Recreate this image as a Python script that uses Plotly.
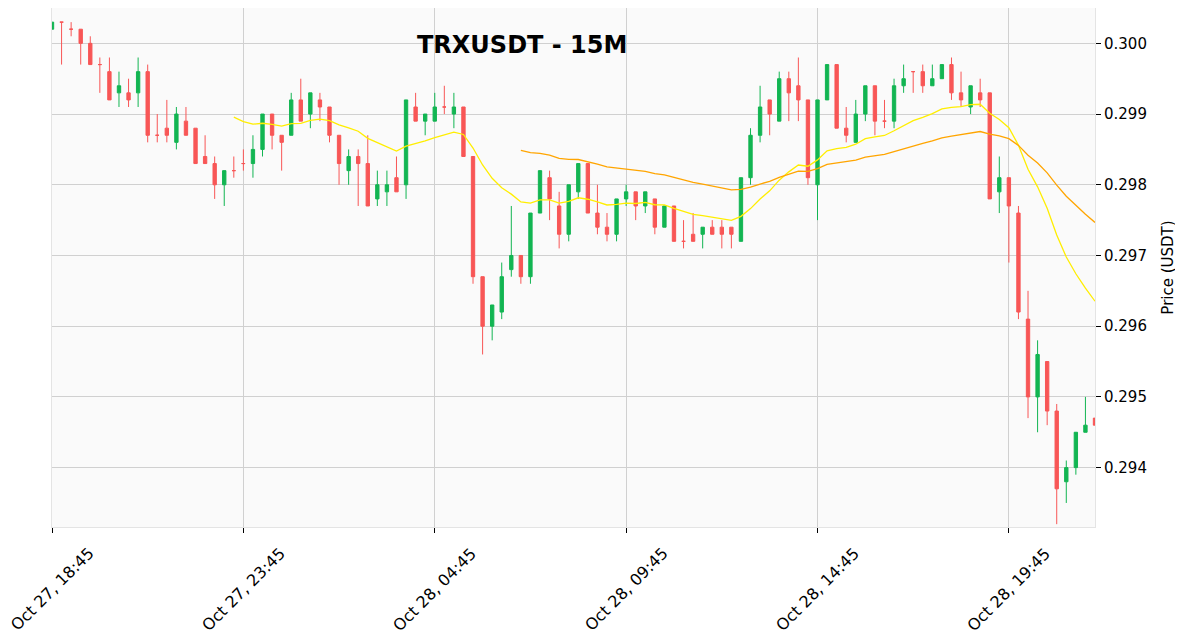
import pandas as pd
import numpy as np
import plotly.graph_objects as go

# ---- data ----
opens = [0.3002, 0.3003, 0.3002, 0.3002, 0.3000, 0.2997, 0.2996, 0.2993, 0.2993, 0.2993,
         0.2996, 0.2987, 0.2988, 0.2986, 0.2989, 0.2988, 0.2984, 0.2983, 0.2980, 0.2982,
         0.2983, 0.2983, 0.2985, 0.2990, 0.2987, 0.2987, 0.2992, 0.2990, 0.2992, 0.2991,
         0.2987, 0.2982, 0.2984, 0.2983, 0.2978, 0.2979, 0.2981, 0.2980, 0.2991, 0.2989,
         0.2989, 0.2991, 0.2990, 0.2991, 0.2984, 0.2967, 0.2960, 0.2962, 0.2968, 0.2970,
         0.2967, 0.2976, 0.2981, 0.2977, 0.2973, 0.2979, 0.2983, 0.2976, 0.2974, 0.2973,
         0.2978, 0.2979, 0.2977, 0.2978, 0.2974, 0.2977, 0.2972, 0.2973, 0.2973, 0.2974,
         0.2974, 0.2974, 0.2972, 0.2981, 0.2987, 0.2992, 0.2989, 0.2995, 0.2994, 0.2992,
         0.2980, 0.2992, 0.2997, 0.2988, 0.2986, 0.2990, 0.2994, 0.2989, 0.2989, 0.2994,
         0.2996, 0.2996, 0.2994, 0.2995, 0.2997, 0.2993, 0.2991, 0.2993, 0.2993, 0.2979,
         0.2981, 0.2976, 0.2961, 0.2950, 0.2955, 0.2948, 0.2938, 0.2940, 0.2945, 0.2947]
highs = [0.3003, 0.3003, 0.3003, 0.3002, 0.3001, 0.2998, 0.2998, 0.2996, 0.2995, 0.2998,
         0.2997, 0.2990, 0.2992, 0.2991, 0.2991, 0.2988, 0.2987, 0.2984, 0.2982, 0.2984,
         0.2985, 0.2987, 0.2990, 0.2990, 0.2987, 0.2993, 0.2995, 0.2993, 0.2993, 0.2991,
         0.2987, 0.2985, 0.2985, 0.2987, 0.2982, 0.2982, 0.2984, 0.2992, 0.2993, 0.2990,
         0.2993, 0.2994, 0.2993, 0.2991, 0.2984, 0.2967, 0.2963, 0.2969, 0.2977, 0.2970,
         0.2976, 0.2982, 0.2982, 0.2979, 0.2980, 0.2983, 0.2983, 0.2980, 0.2976, 0.2978,
         0.2980, 0.2979, 0.2979, 0.2978, 0.2977, 0.2977, 0.2975, 0.2976, 0.2974, 0.2975,
         0.2975, 0.2974, 0.2981, 0.2988, 0.2994, 0.2992, 0.2996, 0.2996, 0.2998, 0.2992,
         0.2992, 0.2997, 0.2997, 0.2991, 0.2992, 0.2994, 0.2994, 0.2992, 0.2995, 0.2997,
         0.2996, 0.2997, 0.2997, 0.2997, 0.2998, 0.2996, 0.2994, 0.2995, 0.2993, 0.2984,
         0.2981, 0.2977, 0.2965, 0.2958, 0.2955, 0.2949, 0.2941, 0.2945, 0.2950, 0.2947]
lows = [0.3002, 0.2997, 0.3001, 0.2997, 0.2997, 0.2993, 0.2992, 0.2991, 0.2991, 0.2991,
        0.2986, 0.2986, 0.2986, 0.2985, 0.2987, 0.2983, 0.2983, 0.2978, 0.2977, 0.2981,
        0.2982, 0.2981, 0.2984, 0.2985, 0.2982, 0.2987, 0.2989, 0.2988, 0.2989, 0.2986,
        0.2980, 0.2980, 0.2977, 0.2977, 0.2977, 0.2977, 0.2979, 0.2978, 0.2989, 0.2987,
        0.2989, 0.2990, 0.2988, 0.2984, 0.2966, 0.2956, 0.2958, 0.2961, 0.2967, 0.2966,
        0.2966, 0.2976, 0.2975, 0.2971, 0.2972, 0.2978, 0.2976, 0.2973, 0.2972, 0.2972,
        0.2977, 0.2975, 0.2976, 0.2973, 0.2974, 0.2972, 0.2971, 0.2972, 0.2971, 0.2973,
        0.2971, 0.2971, 0.2972, 0.2980, 0.2986, 0.2987, 0.2989, 0.2989, 0.2989, 0.2980,
        0.2975, 0.2992, 0.2988, 0.2986, 0.2986, 0.2989, 0.2987, 0.2988, 0.2988, 0.2993,
        0.2993, 0.2993, 0.2994, 0.2995, 0.2992, 0.2991, 0.2990, 0.2991, 0.2978, 0.2976,
        0.2969, 0.2961, 0.2947, 0.2945, 0.2946, 0.2932, 0.2935, 0.2939, 0.2945, 0.2946]
closes = [0.3003, 0.3003, 0.3002, 0.3000, 0.2997, 0.2997, 0.2992, 0.2994, 0.2992, 0.2996,
          0.2987, 0.2987, 0.2987, 0.2990, 0.2987, 0.2983, 0.2983, 0.2980, 0.2982, 0.2982,
          0.2983, 0.2985, 0.2990, 0.2987, 0.2986, 0.2992, 0.2989, 0.2993, 0.2991, 0.2987,
          0.2983, 0.2984, 0.2983, 0.2977, 0.2980, 0.2980, 0.2979, 0.2992, 0.2989, 0.2990,
          0.2991, 0.2991, 0.2991, 0.2984, 0.2967, 0.2960, 0.2963, 0.2967, 0.2970, 0.2967,
          0.2976, 0.2982, 0.2978, 0.2973, 0.2980, 0.2983, 0.2976, 0.2974, 0.2973, 0.2978,
          0.2979, 0.2977, 0.2979, 0.2974, 0.2977, 0.2972, 0.2972, 0.2972, 0.2974, 0.2973,
          0.2973, 0.2973, 0.2981, 0.2987, 0.2991, 0.2990, 0.2995, 0.2993, 0.2992, 0.2981,
          0.2992, 0.2997, 0.2988, 0.2987, 0.2990, 0.2994, 0.2989, 0.2989, 0.2994, 0.2995,
          0.2996, 0.2994, 0.2995, 0.2997, 0.2993, 0.2992, 0.2994, 0.2992, 0.2978, 0.2981,
          0.2977, 0.2962, 0.2950, 0.2956, 0.2948, 0.2937, 0.2940, 0.2945, 0.2946, 0.2946]

start_time = "2025-10-27 18:45"
tick_labels = ["Oct 27, 18:45", "Oct 27, 23:45", "Oct 28, 04:45",
               "Oct 28, 09:45", "Oct 28, 14:45", "Oct 28, 19:45"]
ema_fast_span = 20
ema_slow_span = 50
title_text = "TRXUSDT - 15M"
y_title = "Price (USDT)"

# ---- derived ----
times = pd.date_range(start_time, periods=len(closes), freq="15min")
up_mask = [c > o for o, c in zip(opens, closes)]
dn_mask = [not m for m in up_mask]


def pick(vals, mask):
    return [v if m else None for v, m in zip(vals, mask)]


close_s = pd.Series(closes)
ema_fast = close_s.ewm(span=ema_fast_span, adjust=False).mean()
ema_fast.iloc[:ema_fast_span - 1] = np.nan
ema_slow = close_s.ewm(span=ema_slow_span, adjust=False).mean()
ema_slow.iloc[:ema_slow_span - 1] = np.nan

UP = "#12b552"
DN = "#f85656"
FONT = "DejaVu Sans"

fig = go.Figure()
fig.add_trace(go.Candlestick(
    x=times, open=pick(opens, up_mask), high=pick(highs, up_mask),
    low=pick(lows, up_mask), close=pick(closes, up_mask),
    increasing=dict(line=dict(color=UP, width=1), fillcolor=UP),
    decreasing=dict(line=dict(color=UP, width=1), fillcolor=UP),
    showlegend=False, name="up"))
fig.add_trace(go.Candlestick(
    x=times, open=pick(opens, dn_mask), high=pick(highs, dn_mask),
    low=pick(lows, dn_mask), close=pick(closes, dn_mask),
    increasing=dict(line=dict(color=DN, width=1), fillcolor=DN),
    decreasing=dict(line=dict(color=DN, width=1), fillcolor=DN),
    showlegend=False, name="down"))
fig.add_trace(go.Scatter(x=times, y=ema_fast, mode="lines",
                         line=dict(color="#ffee00", width=1.3), showlegend=False))
fig.add_trace(go.Scatter(x=times, y=ema_slow, mode="lines",
                         line=dict(color="#ffa500", width=1.3), showlegend=False))

tick_vals = [times[i] for i in range(0, len(times), 20)][:len(tick_labels)]

for tv, tl in zip(tick_vals, tick_labels):
    fig.add_annotation(x=tv, y=-0.028, xref="x", yref="paper", text=tl,
                       showarrow=False, textangle=-45, xanchor="center", yanchor="top",
                       font=dict(family=FONT, size=16, color="#000000"))

fig.add_annotation(x=0.4506, y=0.929, xref="paper", yref="paper", text="<b>" + title_text + "</b>",
                   showarrow=False, xanchor="center", yanchor="middle",
                   font=dict(family=FONT, size=24, color="#000000"))

fig.update_layout(
    width=1183, height=637,
    margin=dict(l=44, r=96, t=0, b=118),
    paper_bgcolor="white", plot_bgcolor="#fafafa",
    boxgap=0.5,
    font=dict(family=FONT, size=15, color="#000000"),
    xaxis=dict(range=[times[0], times[-1]], rangeslider=dict(visible=False),
               tickvals=tick_vals, showticklabels=False,
               ticks="outside", ticklen=5, tickcolor="#000000",
               showgrid=True, gridcolor="#d0d0d0", gridwidth=1.3,
               showline=True, linecolor="#e4e4e4", linewidth=1, mirror=True,
               zeroline=False),
    yaxis=dict(side="right", range=[0.29316, 0.30050], dtick=0.001, tick0=0,
               tickformat=".3f", ticks="outside", ticklen=5, tickcolor="#000000",
               showgrid=True, gridcolor="#d0d0d0", gridwidth=1.3,
               showline=True, linecolor="#e4e4e4", linewidth=1, mirror=True,
               zeroline=False,
               title=dict(text=y_title, standoff=16, font=dict(family=FONT, size=15)),
               tickfont=dict(family=FONT, size=15, color="#000000")),
)

fig.write_html("out.html")
